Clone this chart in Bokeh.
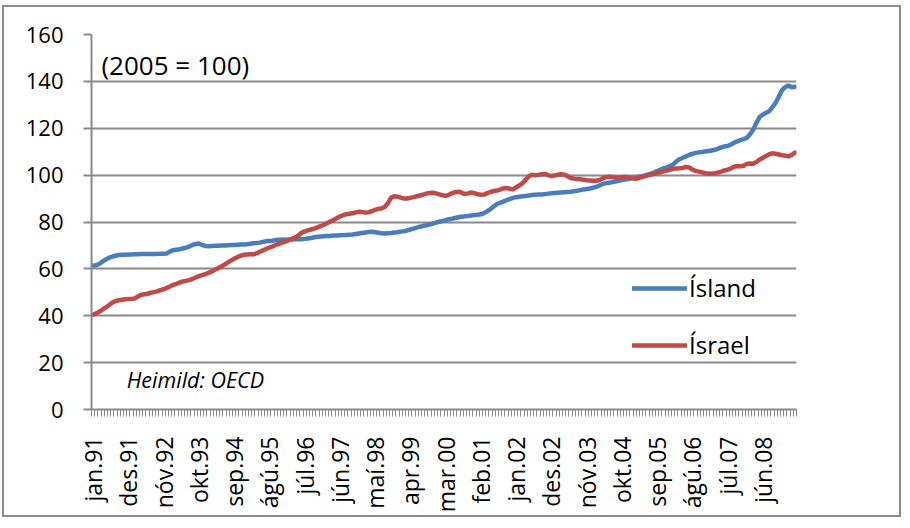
import numpy as np
from bokeh.plotting import figure
from bokeh.models import (ColumnDataSource, Range1d, FixedTicker, Legend, LegendItem, Label)
from bokeh.embed import file_html
from bokeh.resources import INLINE

# ---- data (monthly, jan.91 - apr.09), 2005 = 100 ----
month_names = ["jan", "feb", "mar", "apr", "maí", "jún", "júl", "ágú", "sep", "okt", "nóv", "des"]
n_months = 220
cats = [f"{month_names[i % 12]}.{(91 + i // 12) % 100:02d}" for i in range(n_months)]

island = [
    61.4, 61.6, 62.2, 63.2, 64.0, 64.8, 65.2, 65.6, 65.9, 66.0, 66.0, 66.1,
    66.1, 66.2, 66.2, 66.3, 66.3, 66.3, 66.4, 66.4, 66.4, 66.5, 66.5, 66.6,
    67.4, 68.0, 68.2, 68.4, 68.7, 69.0, 69.5, 70.2, 70.6, 70.8, 70.2, 69.8,
    69.7, 69.8, 69.9, 69.9, 70.0, 70.0, 70.1, 70.2, 70.2, 70.3, 70.4, 70.4,
    70.5, 70.7, 70.9, 71.0, 71.2, 71.5, 71.8, 71.9, 72.0, 72.3, 72.4, 72.5,
    72.4, 72.5, 72.5, 72.6, 72.7, 72.6, 72.8, 73.0, 73.2, 73.5, 73.7, 73.8,
    73.9, 74.0, 74.0, 74.2, 74.2, 74.3, 74.4, 74.5, 74.6, 74.7, 74.9, 75.1,
    75.3, 75.5, 75.7, 75.8, 75.6, 75.4, 75.2, 75.1, 75.2, 75.3, 75.5, 75.6,
    75.9, 76.1, 76.4, 76.8, 77.2, 77.6, 78.0, 78.3, 78.6, 78.9, 79.3, 79.7,
    80.1, 80.4, 80.8, 81.2, 81.4, 81.7, 82.0, 82.2, 82.4, 82.6, 82.8, 83.0,
    83.1, 83.3, 83.8, 84.6, 85.5, 86.6, 87.6, 88.2, 88.7, 89.3, 89.8, 90.3,
    90.6, 90.8, 91.0, 91.1, 91.3, 91.5, 91.6, 91.7, 91.7, 91.9, 92.1, 92.3,
    92.4, 92.5, 92.6, 92.7, 92.8, 92.9, 93.1, 93.3, 93.6, 93.9, 94.1, 94.3,
    94.6, 95.0, 95.6, 96.2, 96.6, 96.7, 97.0, 97.3, 97.6, 97.9, 98.1, 98.3,
    98.6, 98.9, 99.2, 99.5, 99.8, 100.2, 100.6, 101.1, 101.7, 102.3, 102.9, 103.3,
    103.8, 104.6, 105.8, 106.8, 107.4, 108.0, 108.6, 109.1, 109.5, 109.7, 109.9, 110.1,
    110.3, 110.5, 110.8, 111.3, 111.8, 112.2, 112.4, 113.0, 113.8, 114.4, 114.9, 115.4,
    115.9, 117.4, 119.5, 122.3, 124.8, 125.8, 126.6, 127.3, 129.0, 130.9, 133.5, 136.3,
    137.6, 138.2, 137.5, 137.7,
]

israel = [
    40.5, 41.0, 41.8, 42.7, 43.6, 44.6, 45.6, 46.3, 46.6, 46.8, 47.0, 47.1,
    47.2, 47.4, 48.2, 49.0, 49.2, 49.4, 49.8, 50.1, 50.4, 50.9, 51.3, 51.9,
    52.5, 53.2, 53.6, 54.2, 54.6, 54.9, 55.2, 55.7, 56.3, 56.9, 57.3, 57.8,
    58.3, 58.9, 59.6, 60.3, 61.0, 61.8, 62.7, 63.5, 64.3, 65.0, 65.6, 66.0,
    66.1, 66.2, 66.2, 66.6, 67.3, 67.9, 68.5, 69.1, 69.6, 70.2, 70.7, 71.2,
    71.6, 72.2, 72.8, 73.4, 74.2, 75.3, 76.0, 76.4, 76.8, 77.2, 77.7, 78.2,
    78.8, 79.5, 80.2, 80.9, 81.6, 82.3, 82.9, 83.3, 83.5, 83.7, 84.1, 84.4,
    84.3, 84.0, 84.2, 84.6, 85.2, 85.6, 85.8, 86.4, 88.0, 90.4, 91.0, 90.8,
    90.4, 90.0, 90.0, 90.3, 90.6, 91.0, 91.3, 91.7, 92.1, 92.4, 92.5, 92.2,
    91.8, 91.4, 91.2, 91.6, 92.3, 92.7, 92.9, 92.5, 91.9, 92.2, 92.6, 92.3,
    91.8, 91.6, 91.7, 92.3, 92.8, 93.2, 93.4, 93.8, 94.3, 94.5, 94.2, 93.9,
    94.8, 95.6, 96.6, 98.0, 99.5, 100.2, 99.9, 100.1, 100.4, 100.5, 100.0, 99.6,
    99.8, 100.2, 100.4, 100.2, 99.6, 98.8, 98.5, 98.3, 98.2, 98.0, 97.8, 97.7,
    97.6, 97.6, 97.9, 98.6, 99.1, 99.3, 99.2, 99.0, 98.9, 99.1, 99.2, 99.0,
    98.8, 98.5, 98.6, 99.1, 99.5, 99.8, 100.2, 100.6, 100.9, 101.2, 101.6, 101.9,
    102.3, 102.7, 102.8, 102.9, 103.1, 103.5, 103.3, 102.4, 101.8, 101.5, 101.2, 100.8,
    100.7, 100.6, 100.8, 101.1, 101.5, 102.0, 102.3, 102.8, 103.6, 103.9, 103.8, 104.0,
    104.8, 105.0, 104.9, 105.6, 106.6, 107.4, 108.2, 108.9, 109.3, 109.1, 108.8, 108.5,
    108.3, 108.0, 108.6, 109.6,
]

y_ticks = [0, 20, 40, 60, 80, 100, 120, 140, 160]
label_step = 11
series_names = ["Ísland", "Ísrael"]
series_colors = ["#4A7EBB", "#BE4B48"]
note_text = "(2005 = 100)"
source_text = "Heimild: OECD"

FONT = "Open Sans"
GRAY = "#898989"

idx = list(range(n_months))
src = ColumnDataSource(dict(x=idx, island=island, israel=israel, cat=cats))

p = figure(frame_width=705, frame_height=375, output_backend="svg", toolbar_location=None,
           x_range=Range1d(-0.5, n_months - 0.5), y_range=Range1d(y_ticks[0], y_ticks[-1]),
           min_border_left=87, min_border_top=27, min_border_right=103, min_border_bottom=104)
p.styles = {"border": "2px solid #8c8c8c", "margin-left": "2px", "margin-top": "5px"}
p.background_fill_color = "white"
p.border_fill_color = "white"
p.outline_line_color = None

# y axis
p.yaxis.ticker = FixedTicker(ticks=y_ticks)
p.yaxis.axis_line_color = GRAY
p.yaxis.axis_line_width = 2
p.yaxis.major_tick_line_color = GRAY
p.yaxis.major_tick_line_width = 2
p.yaxis.major_tick_out = 8
p.yaxis.major_tick_in = 0
p.yaxis.minor_tick_line_color = None
p.yaxis.major_label_text_font = FONT
p.yaxis.major_label_text_font_size = "22px"
p.yaxis.major_label_text_color = "black"
p.yaxis.major_label_standoff = 20
p.ygrid.grid_line_color = GRAY
p.ygrid.grid_line_width = 2
p.xgrid.grid_line_color = None

# x axis: categories by month index, label every 11th month
major = list(range(0, n_months, label_step))
minor = [i - 0.5 for i in range(n_months + 1)]
p.xaxis.ticker = FixedTicker(ticks=major, minor_ticks=minor)
p.xaxis.major_label_overrides = {i: cats[i] for i in major}
p.xaxis.major_label_orientation = np.pi / 2
p.xaxis.axis_line_color = GRAY
p.xaxis.axis_line_width = 2
p.xaxis.major_tick_line_color = None
p.xaxis.major_tick_out = 0
p.xaxis.major_tick_in = 0
p.xaxis.minor_tick_line_color = GRAY
p.xaxis.minor_tick_line_width = 1
p.xaxis.minor_tick_out = 7
p.xaxis.minor_tick_in = 0
p.xaxis.major_label_text_font = FONT
p.xaxis.major_label_text_font_size = "23px"
p.xaxis.major_label_text_color = "black"
p.xaxis.major_label_standoff = 20

r1 = p.line("x", "island", source=src, line_color=series_colors[0], line_width=4.5,
            line_cap="round", line_join="round")
r2 = p.line("x", "israel", source=src, line_color=series_colors[1], line_width=4.5,
            line_cap="round", line_join="round")

legend = Legend(items=[LegendItem(label=series_names[0], renderers=[r1]),
                       LegendItem(label=series_names[1], renderers=[r2])],
                location=(541, 48), orientation="vertical")
legend.background_fill_alpha = 0
legend.border_line_alpha = 0
legend.padding = 0
legend.margin = 0
legend.spacing = 24
legend.glyph_width = 55
legend.glyph_height = 20
legend.label_standoff = 2
legend.label_text_font = FONT
legend.label_text_font_size = "24px"
legend.label_text_color = "black"
p.add_layout(legend)

p.add_layout(Label(x=2.6, y=146.8, text=note_text, text_font=FONT, text_font_size="26px",
                   text_baseline="middle", text_color="black"))
p.add_layout(Label(x=10.5, y=13.0, text=source_text, text_font=FONT, text_font_size="21.5px",
                   text_font_style="italic", text_baseline="middle", text_color="black"))

open("out.html", "w").write(file_html(p, INLINE))
